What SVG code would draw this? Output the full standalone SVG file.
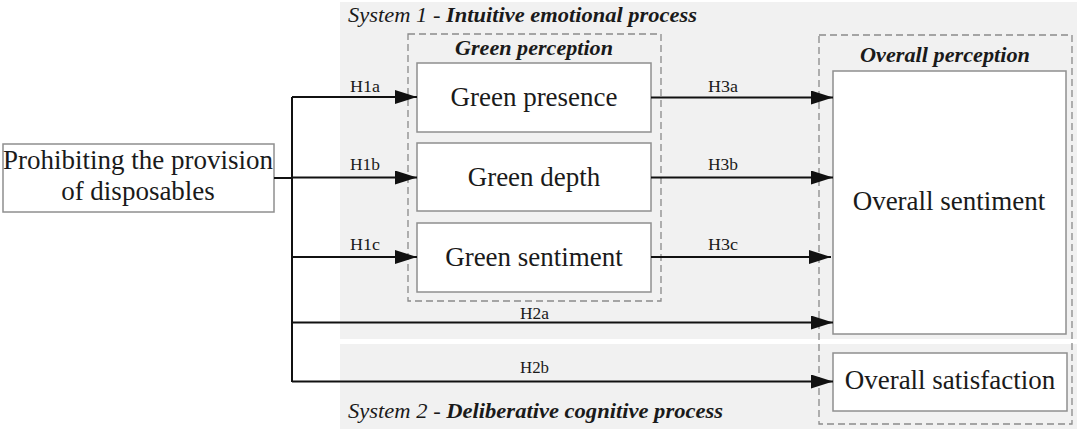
<svg xmlns="http://www.w3.org/2000/svg" width="1080" height="429" viewBox="0 0 1080 429">
<style>
.bg{fill:#f1f1f1}
.box{fill:#ffffff;stroke:#8f8f8f;stroke-width:1.5}
.dash{fill:none;stroke:#8a8a8a;stroke-width:1.3;stroke-dasharray:7,4}
.big{font-family:"Liberation Serif","Times New Roman",serif;font-size:27px;fill:#1a1a1a;text-anchor:middle}
.ttl{font-family:"Liberation Serif","Times New Roman",serif;font-size:21px;font-weight:bold;font-style:italic;fill:#1a1a1a;text-anchor:middle}
.sys{font-family:"Liberation Serif","Times New Roman",serif;font-size:21px;font-style:italic;fill:#1a1a1a}
.sys tspan.b{font-weight:bold}
.lbl{font-family:"Liberation Serif","Times New Roman",serif;font-size:16px;fill:#1a1a1a}
.ln{fill:none;stroke:#111;stroke-width:2}
</style>
<defs>
<marker id="ah" markerUnits="userSpaceOnUse" markerWidth="24" markerHeight="16" refX="22" refY="7" orient="auto">
<path d="M0,0 L22,7 L0,14 Z" fill="#111"/>
</marker>
</defs>
<g id="panels">
<rect class="bg" x="340" y="2" width="737" height="337"/>
<rect class="bg" x="340" y="344" width="737" height="85"/>
<text class="sys" x="348" y="22" textLength="349" lengthAdjust="spacingAndGlyphs">System 1 - <tspan class="b">Intuitive emotional process</tspan></text>
<text class="sys" x="348" y="418" textLength="375" lengthAdjust="spacingAndGlyphs">System 2 - <tspan class="b">Deliberative cognitive process</tspan></text>
</g>
<g id="green-perception">
<rect class="dash" x="408" y="34" width="253" height="267"/>
<text class="ttl" x="534" y="55" textLength="158" lengthAdjust="spacingAndGlyphs">Green perception</text>
</g>
<g id="overall-perception">
<rect class="dash" x="819" y="35" width="253" height="389"/>
<text class="ttl" x="945" y="62" textLength="170" lengthAdjust="spacingAndGlyphs">Overall perception</text>
</g>
<g id="prohibiting">
<rect class="box" x="3" y="144" width="271" height="68"/>
<text class="big" x="138" y="169">Prohibiting the provision</text>
<text class="big" x="138" y="200">of disposables</text>
</g>
<g id="green-presence">
<rect class="box" x="417" y="63" width="234" height="69"/>
<text class="big" x="534" y="105.5">Green presence</text>
</g>
<g id="green-depth">
<rect class="box" x="417" y="143" width="234" height="68"/>
<text class="big" x="534" y="185.5">Green depth</text>
</g>
<g id="green-sentiment">
<rect class="box" x="417" y="223" width="234" height="69"/>
<text class="big" x="534" y="265.5">Green sentiment</text>
</g>
<g id="overall-sentiment">
<rect class="box" x="833" y="71" width="233" height="263"/>
<text class="big" x="949" y="210">Overall sentiment</text>
</g>
<g id="overall-satisfaction">
<rect class="box" x="833" y="353" width="234" height="58"/>
<text class="big" x="950" y="389">Overall satisfaction</text>
</g>
<g id="connectors">
<path class="ln" d="M274,178 H292"/>
<path class="ln" d="M292,97 V382"/>
<path class="ln" d="M292,97 H417" marker-end="url(#ah)"/>
<path class="ln" d="M292,177.5 H417" marker-end="url(#ah)"/>
<path class="ln" d="M292,257 H417" marker-end="url(#ah)"/>
<path class="ln" d="M651,97.5 H833" marker-end="url(#ah)"/>
<path class="ln" d="M651,177.5 H833" marker-end="url(#ah)"/>
<path class="ln" d="M651,257 H831" marker-end="url(#ah)"/>
<path class="ln" d="M292,322.5 H833" marker-end="url(#ah)"/>
<path class="ln" d="M292,381.5 H833" marker-end="url(#ah)"/>
<text class="lbl" x="350" y="92" textLength="30" lengthAdjust="spacingAndGlyphs">H1a</text>
<text class="lbl" x="350" y="170" textLength="30" lengthAdjust="spacingAndGlyphs">H1b</text>
<text class="lbl" x="350" y="250" textLength="30" lengthAdjust="spacingAndGlyphs">H1c</text>
<text class="lbl" x="708" y="92" textLength="30" lengthAdjust="spacingAndGlyphs">H3a</text>
<text class="lbl" x="708" y="170" textLength="30" lengthAdjust="spacingAndGlyphs">H3b</text>
<text class="lbl" x="708" y="250" textLength="30" lengthAdjust="spacingAndGlyphs">H3c</text>
<text class="lbl" x="520" y="319" textLength="29" lengthAdjust="spacingAndGlyphs">H2a</text>
<text class="lbl" x="520" y="373" textLength="29" lengthAdjust="spacingAndGlyphs">H2b</text>
</g>
</svg>
